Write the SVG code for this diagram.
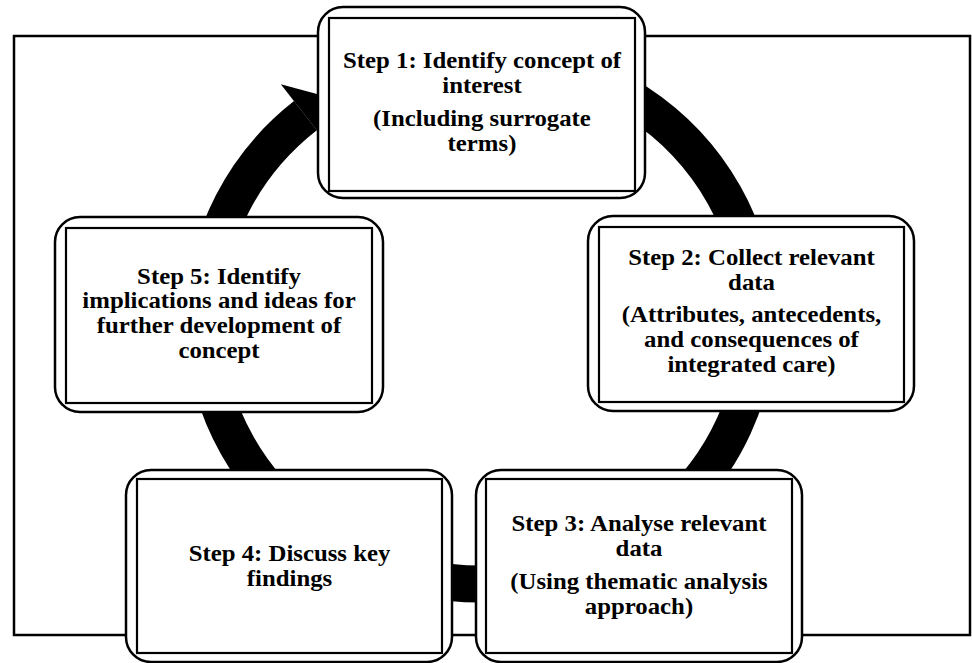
<svg xmlns="http://www.w3.org/2000/svg" width="972" height="663" viewBox="0 0 972 663">
<style>
.frame{fill:none;stroke:#000;stroke-width:2.5}
.outer{fill:#fff;stroke:#000;stroke-width:2.5}
.inner{fill:none;stroke:#000;stroke-width:2.2}
.ring{fill:none;stroke:#000;stroke-width:37}
.lbl{font-family:"Liberation Serif","Times New Roman",serif;font-weight:bold;font-size:23.5px;text-anchor:middle;fill:#000}
</style>
<rect width="972" height="663" fill="#fff"/>
<rect class="frame" x="14" y="36" width="956" height="599"/>
<g id="connectors">
<path class="ring" d="M 528.5 60 A 276.5 264 0 1 1 305.4 115.7"/>
<polygon points="280.8,84.2 329,97.2 330,147.2" fill="#000"/>
</g>
<g id="step1">
<rect class="outer" x="318" y="7" width="327" height="191" rx="25"/>
<rect class="inner" x="329" y="18" width="306" height="173"/>
<text class="lbl" transform="translate(482 0) scale(1.055 1)"><tspan x="0" y="68">Step 1: Identify concept of</tspan><tspan x="0" y="93">interest</tspan><tspan x="0" y="126">(Including surrogate</tspan><tspan x="0" y="151">terms)</tspan></text>
</g>
<g id="step2">
<rect class="outer" x="588" y="216" width="326" height="195" rx="25"/>
<rect class="inner" x="599" y="227" width="305" height="175"/>
<text class="lbl" transform="translate(751.5 0) scale(1.055 1)"><tspan x="0" y="265">Step 2: Collect relevant</tspan><tspan x="0" y="290">data</tspan><tspan x="0" y="322">(Attributes, antecedents,</tspan><tspan x="0" y="347">and consequences of</tspan><tspan x="0" y="372">integrated care)</tspan></text>
</g>
<g id="step3">
<rect class="outer" x="476" y="470" width="326" height="192" rx="25"/>
<rect class="inner" x="486" y="479" width="306" height="174"/>
<text class="lbl" transform="translate(639 0) scale(1.055 1)"><tspan x="0" y="531">Step 3: Analyse relevant</tspan><tspan x="0" y="556">data</tspan><tspan x="0" y="589">(Using thematic analysis</tspan><tspan x="0" y="614">approach)</tspan></text>
</g>
<g id="step4">
<rect class="outer" x="126" y="470" width="326" height="192" rx="25"/>
<rect class="inner" x="137" y="479" width="305" height="174"/>
<text class="lbl" transform="translate(289.5 0) scale(1.055 1)"><tspan x="0" y="561">Step 4: Discuss key</tspan><tspan x="0" y="586">findings</tspan></text>
</g>
<g id="step5">
<rect class="outer" x="55" y="217" width="328" height="195" rx="25"/>
<rect class="inner" x="66" y="228" width="306" height="175"/>
<text class="lbl" transform="translate(219 0) scale(1.055 1)"><tspan x="0" y="284">Step 5: Identify</tspan><tspan x="0" y="308">implications and ideas for</tspan><tspan x="0" y="333">further development of</tspan><tspan x="0" y="358">concept</tspan></text>
</g>
</svg>
